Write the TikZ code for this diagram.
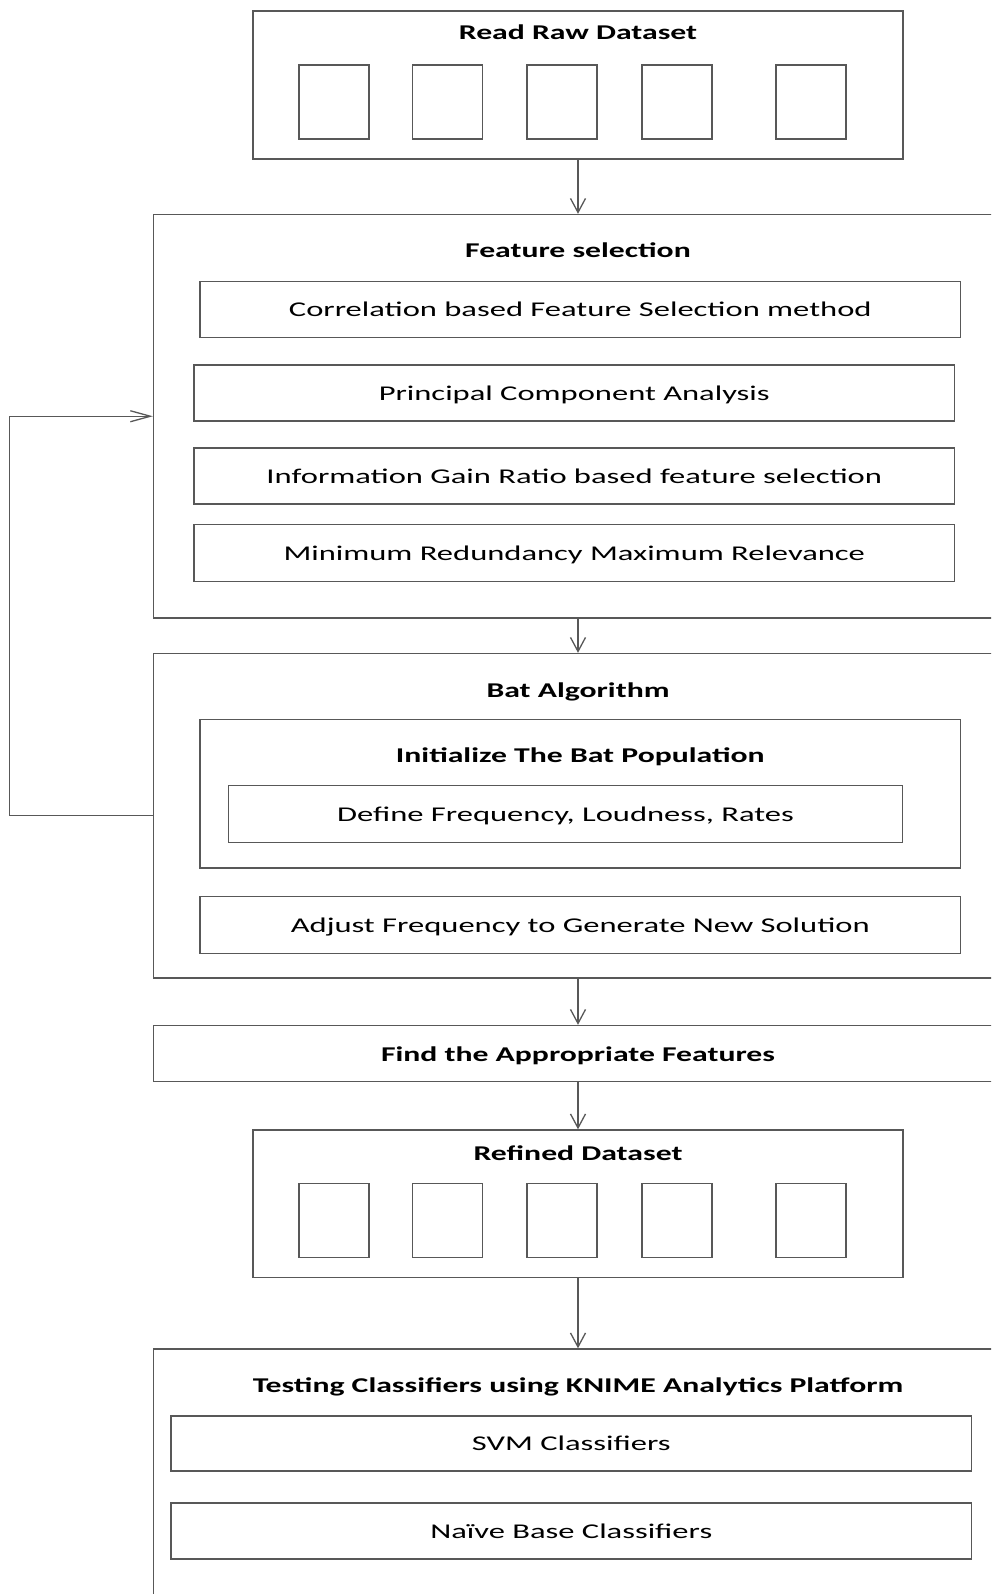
\documentclass[tikz,border=0pt]{standalone}
\usepackage{fontspec}
\setmainfont{Carlito}[FakeStretch=1.55, BoldFeatures={FakeStretch=1.51}]
\usetikzlibrary{arrows.meta}
\definecolor{linegray}{RGB}{88,88,88}
\tikzstyle{frame} = [rectangle, draw=linegray, line width=1.4pt, fill=white, inner sep=0pt]
\tikzstyle{process} = [rectangle, draw=linegray, line width=1.4pt, inner sep=0pt, minimum height=56pt, text centered, text height=1.45em, text depth=0em, font=\fontsize{21}{25}\selectfont]
\tikzstyle{datacell} = [rectangle, draw=linegray, line width=1.4pt, minimum width=70pt, minimum height=74pt]
\tikzstyle{title} = [anchor=base, font=\bfseries\fontsize{21}{25}\selectfont]
\tikzstyle{arrow} = [draw=linegray, line width=1.3pt, -{Straight Barb[length=14pt,width=15pt]}]
\tikzstyle{backarrow} = [draw=linegray, line width=1.3pt, -{Straight Barb[length=20pt,width=11pt]}]

\begin{document}
\begin{tikzpicture}[x=1pt, y=1pt]
\useasboundingbox (0,0) rectangle (991,-1594);
\fill[white] (0,0) rectangle (991,-1594);
\clip (0,0) rectangle (991,-1594);

% raw data
\node (read) [frame, minimum width=650pt, minimum height=148pt] at (578,-85) {};
\node (readt) [title] at ([yshift=-29.5pt]read.north) {Read Raw Dataset};
\node (raw1) [datacell] at (334,-102) {};
\node (raw2) [datacell] at (447.5,-102) {};
\node (raw3) [datacell] at (562,-102) {};
\node (raw4) [datacell] at (677,-102) {};
\node (raw5) [datacell] at (811,-102) {};

% feature selection
\node (sel) [frame, minimum width=856.5pt, minimum height=403.5pt] at (581.75,-416.25) {};
\node (selt) [title] at ([yshift=-43.5pt]read.south |- sel.north) {Feature selection};
\node (sel1) [process, minimum width=760.5pt] at (580.25,-309.5) {Correlation based Feature Selection method};
\node (sel2) [process, minimum width=760.5pt] at (574.25,-393) {Principal Component Analysis};
\node (sel3) [process, minimum width=760.5pt] at (574.25,-476) {Information Gain Ratio based feature selection};
\node (sel4) [process, minimum width=760.5pt, minimum height=57pt] at (574.25,-553) {Minimum Redundancy Maximum Relevance};

% bat algorithm
\node (bat) [frame, minimum width=856.5pt, minimum height=324.5pt] at (581.75,-815.75) {};
\node (batt) [title] at ([yshift=-44.5pt]read.south |- bat.north) {Bat Algorithm};
\node (init) [frame, minimum width=760.5pt, minimum height=148.5pt] at (580.25,-793.75) {};
\node (initt) [title] at ([yshift=-43.5pt]init.north) {Initialize The Bat Population};
\node (define) [process, minimum width=674pt, minimum height=57pt] at (565.5,-814) {Define Frequency, Loudness, Rates};
\node (adjust) [process, minimum width=760.5pt, minimum height=57pt] at (580.25,-925) {Adjust Frequency to Generate New Solution};

% selected features
\node (find) [frame, minimum width=856.5pt, minimum height=56pt] at (581.75,-1053.5) {};
\node (findt) [title] at ([yshift=-8pt]read.south |- find.center) {Find the Appropriate Features};

% refined data
\node (refined) [frame, minimum width=650pt, minimum height=147.5pt] at (578,-1203.75) {};
\node (refinedt) [title] at ([yshift=-31pt]refined.north) {Refined Dataset};
\node (ref1) [datacell] at (334,-1220.5) {};
\node (ref2) [datacell] at (447.5,-1220.5) {};
\node (ref3) [datacell] at (562,-1220.5) {};
\node (ref4) [datacell] at (677,-1220.5) {};
\node (ref5) [datacell] at (811,-1220.5) {};

% classifiers
\node (test) [frame, minimum width=856.5pt, minimum height=301pt] at (581.75,-1499.5) {};
\node (testt) [title] at ([yshift=-44pt]read.south |- test.north) {Testing Classifiers using KNIME Analytics Platform};
\node (svm) [process, minimum width=800.5pt, minimum height=55pt] at (571.25,-1443.5) {SVM Classifiers};
\node (naive) [process, minimum width=800.5pt] at (571.25,-1531) {Naïve Base Classifiers};

\draw [arrow] (read.south) -- (read.south |- sel.north);
\draw [arrow] (read.south |- sel.south) -- (read.south |- bat.north);
\draw [arrow] (read.south |- bat.south) -- (read.south |- find.north);
\draw [arrow] (read.south |- find.south) -- (refined.north);
\draw [arrow] (refined.south) -- (refined.south |- test.north);
\draw [backarrow] (bat.west) -- ++(-143.5,0) |- (sel.west);

\end{tikzpicture}
\end{document}
